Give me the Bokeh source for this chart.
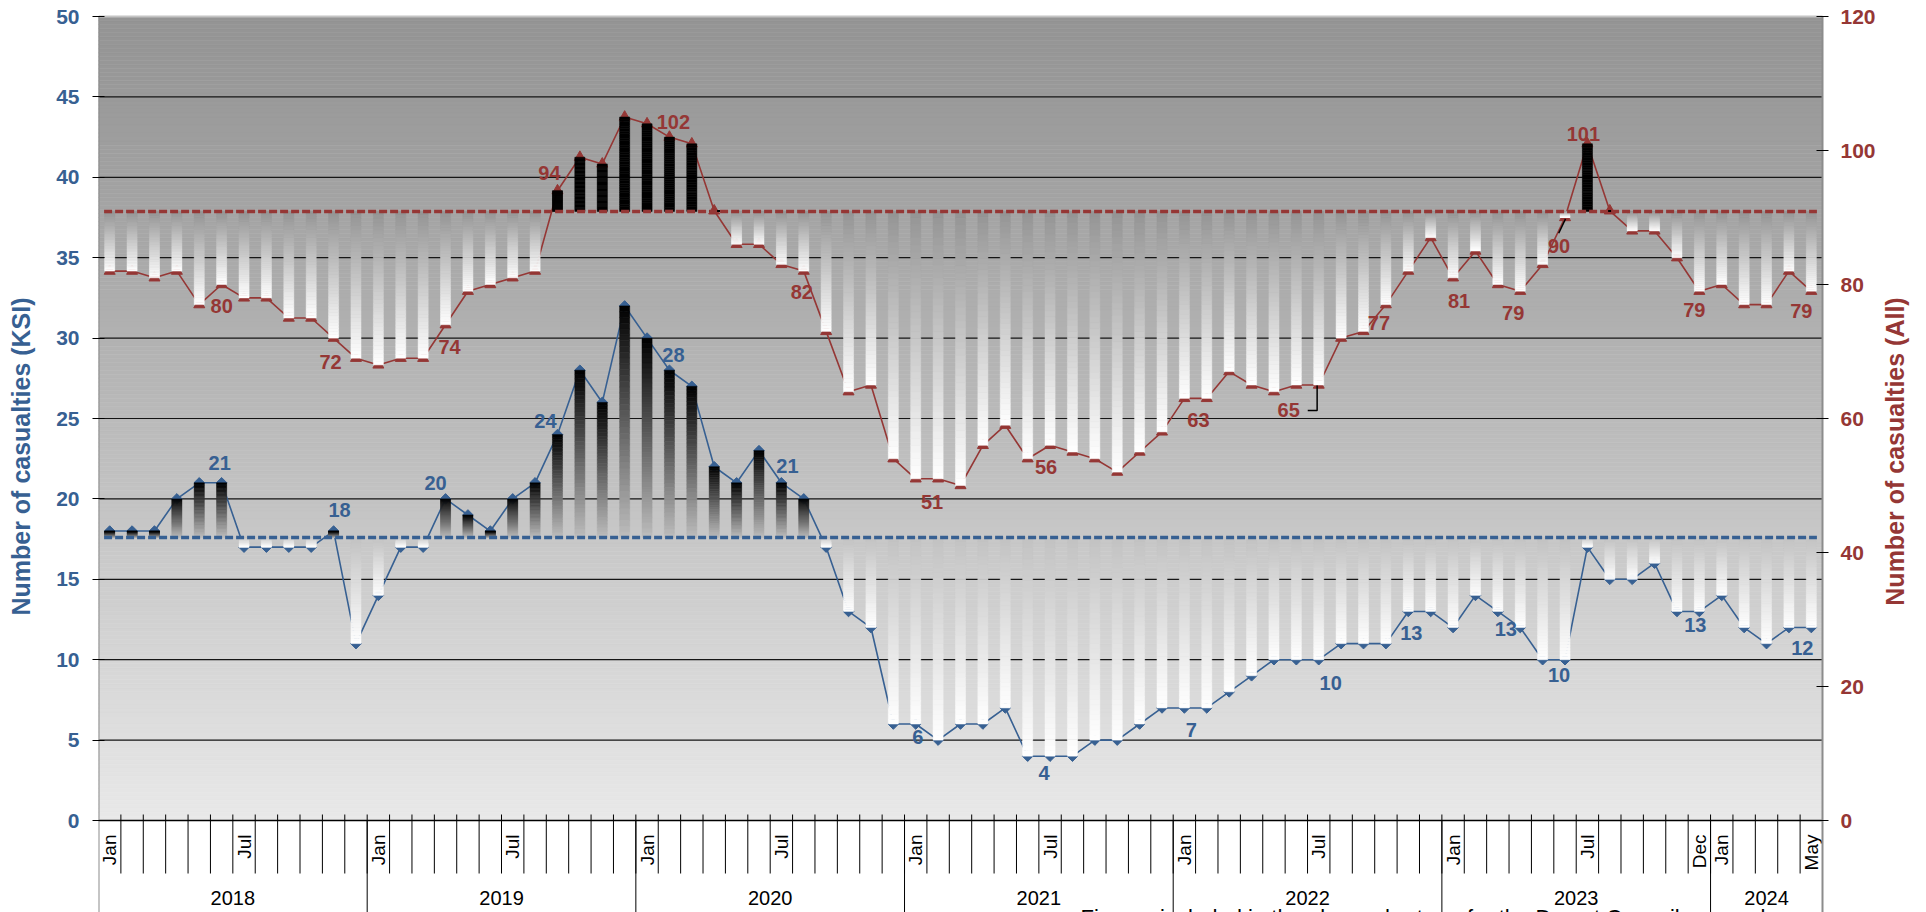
import math
import numpy as np
from bokeh.plotting import figure
from bokeh.models import Range1d, FixedTicker
from bokeh.core.properties import value
from bokeh.embed import file_html
from bokeh.resources import INLINE

# ---------------- data ----------------
years = ["2018", "2019", "2020", "2021", "2022", "2023", "2024"]
months_in_year = [12, 12, 12, 12, 12, 12, 5]
month_names = ["Jan", "Feb", "Mar", "Apr", "May", "Jun",
               "Jul", "Aug", "Sep", "Oct", "Nov", "Dec"]

# killed or seriously injured, per month (left axis)
ksi = [18, 18, 18, 20, 21, 21, 17, 17, 17, 17, 18, 11,
       14, 17, 17, 20, 19, 18, 20, 21, 24, 28, 26, 32,
       30, 28, 27, 22, 21, 23, 21, 20, 17, 13, 12, 6,
       6, 5, 6, 6, 7, 4, 4, 4, 5, 5, 6, 7,
       7, 7, 8, 9, 10, 10, 10, 11, 11, 11, 13, 13,
       12, 14, 13, 12, 10, 10, 17, 15, 15, 16, 13, 13,
       14, 12, 11, 12, 12]

# all casualties, per month (right axis)
all_cas = [82, 82, 81, 82, 77, 80, 78, 78, 75, 75, 72, 69,
           68, 69, 69, 74, 79, 80, 81, 82, 94, 99, 98, 105,
           104, 102, 101, 91, 86, 86, 83, 82, 73, 64, 65, 54,
           51, 51, 50, 56, 59, 54, 56, 55, 54, 52, 55, 58,
           63, 63, 67, 65, 64, 65, 65, 72, 73, 77, 82, 87,
           81, 85, 80, 79, 83, 90, 101, 91, 88, 88, 84, 79,
           80, 77, 77, 82, 79]

ksi_baseline = 17.6
all_baseline = 90.9

left_ticks = list(range(0, 51, 5))
right_ticks = list(range(0, 121, 20))

# month labels shown on the category axis: (year, month)
shown_months = [("2018", "Jan"), ("2018", "Jul"), ("2019", "Jan"), ("2019", "Jul"),
                ("2020", "Jan"), ("2020", "Jul"), ("2021", "Jan"), ("2021", "Jul"),
                ("2022", "Jan"), ("2022", "Jul"), ("2023", "Jan"), ("2023", "Jul"),
                ("2023", "Dec"), ("2024", "Jan"), ("2024", "May")]

# value labels: (month index, screen offset x, screen offset y)
ksi_label_pos = [(5, -2, -20), (10, 6, -21), (15, -10, -16), (20, -12, -14),
                 (25, 4, -15), (30, 6, -17), (36, 2, 13), (42, -6, 17),
                 (48, 7, 22), (54, 12, 23), (58, 3, 22), (62, 8, 18),
                 (65, -6, 15), (71, -4, 14), (76, -9, 20)]
all_label_pos = [(5, 0, 21), (10, -3, 24), (15, 4, 22), (20, -8, -18),
                 (25, 4, -15), (31, -2, 21), (37, -6, 23), (42, -4, 22),
                 (48, 14, 22), (54, -30, 25), (57, -7, 18), (60, 6, 23),
                 (63, -7, 22), (65, -6, 28), (66, -4, -10), (71, -5, 19),
                 (76, -10, 20)]

ksi_title = "Number of casualties (KSI)"
all_title = "Number of casualties (All)"
note = "Figures included in the above chart are for the Dorset Council area only"

# ---------------- layout ----------------
BLUE = "#376092"
RED = "#953735"
AXIS_GREY = "#8c8c8c"
FONT = "Liberation Sans"

W, H = 1926, 912
LEFT, RIGHT, TOP, ZERO = 98, 1822, 16, 820
PX_PER_UNIT = (ZERO - TOP) / 50.0
Y_MIN = -(H - ZERO) / PX_PER_UNIT
Y_MAX = ZERO / PX_PER_UNIT
R_FACTOR = 120 / 50.0
N = len(ksi)
PX_PER_MONTH = (RIGHT - LEFT) / N


def yd(py):
    """screen row -> left-axis units"""
    return (ZERO - py) / PX_PER_UNIT


def xd(px):
    """screen column -> month units"""
    return (px - LEFT) / PX_PER_MONTH


# the frame fills the canvas to the right and top so the right-hand scale fits in it
p = figure(width=W, height=H, x_range=Range1d(0, xd(W)), y_range=Range1d(Y_MIN, Y_MAX),
           x_axis_location=None, y_axis_location="left",
           output_backend="svg", toolbar_location=None,
           min_border_left=LEFT, min_border_right=0,
           min_border_top=0, min_border_bottom=0,
           background_fill_color="white", border_fill_color="white",
           outline_line_color=None)
p.grid.visible = False
p.extra_y_ranges = {"right": Range1d(Y_MIN * R_FACTOR, Y_MAX * R_FACTOR)}

# plot-area background: vertical grey gradient
nb = 200
edges = np.linspace(0, 50, nb + 1)
bg = []
for k in range(nb):
    t = (50 - 0.5 * (edges[k] + edges[k + 1])) / 50.0
    c = int(round(148 + 85 * t ** 1.15))
    bg.append("#%02x%02x%02x" % (c, c, c))
p.quad(left=0, right=N, bottom=edges[:-1], top=edges[1:],
       fill_color=bg, line_color=bg, line_width=0.6)

# horizontal gridlines
grid_vals = left_ticks[1:-1]
p.segment(x0=[0] * len(grid_vals), x1=[N] * len(grid_vals), y0=grid_vals, y1=grid_vals,
          line_color="#151515", line_width=1.2)
p.segment(x0=[0], x1=[N], y0=[50], y1=[50], line_color="#c4c4c4", line_width=2)

x = np.arange(N) + 0.5

# lines + markers
p.line(x, ksi, line_color=BLUE, line_width=1.6)
p.scatter(x, ksi, marker="square", angle=math.pi / 4, size=7.5,
          fill_color=BLUE, line_color=BLUE)
p.line(x, all_cas, line_color=RED, line_width=1.6, y_range_name="right")
p.scatter(x, all_cas, marker="triangle", size=11, fill_color=RED, line_color=RED,
          y_range_name="right")


def mix(c0, c1, t):
    return "#%02x%02x%02x" % tuple(int(round(a + (b - a) * t)) for a, b in zip(c0, c1))


def gradient_bars(vals, base, above_base, above_end, below_base, below_end,
                  y_range_name="default", width=0.45, n=40):
    L, R, B, T, C = [], [], [], [], []
    for i, v in enumerate(vals):
        if v == base:
            continue
        c0, c1 = (above_base, above_end) if v > base else (below_base, below_end)
        e = np.linspace(base, v, n + 1)
        for k in range(n):
            tt = (k + 0.5) / n
            lo, hi = sorted((e[k], e[k + 1]))
            L.append(i + 0.5 - width / 2)
            R.append(i + 0.5 + width / 2)
            B.append(lo)
            T.append(hi)
            C.append(mix(c0, c1, tt))
    p.quad(left=L, right=R, bottom=B, top=T, fill_color=C, line_color=C,
           line_width=0.5, y_range_name=y_range_name)


gradient_bars(ksi, ksi_baseline, (189, 189, 189), (0, 0, 0),
              (194, 194, 194), (255, 255, 255))
gradient_bars(all_cas, all_baseline, (0, 0, 0), (0, 0, 0),
              (148, 148, 148), (255, 255, 255), y_range_name="right")

# dashed reference levels
p.line([0.25, N - 0.25], [ksi_baseline] * 2, line_color=BLUE, line_width=3.5,
       line_dash="8 3")
p.line([0.25, N - 0.25], [all_baseline] * 2, line_color=RED, line_width=3.5,
       line_dash="8 3", y_range_name="right")

# value labels
for vals, pos, col, rng in ((ksi, ksi_label_pos, BLUE, "default"),
                            (all_cas, all_label_pos, RED, "right")):
    idx = [q[0] for q in pos]
    p.text(x=[i + 0.5 for i in idx], y=[vals[i] for i in idx],
           text=[str(vals[i]) for i in idx],
           x_offset=[q[1] for q in pos], y_offset=[q[2] for q in pos],
           text_align="center", text_baseline="middle",
           text_font=value(FONT), text_font_style="bold", text_font_size="20px",
           text_color=col, y_range_name=rng)

# leader lines for two of the labels
for i, pts in ((54, [(-11, 25.5), (-1.6, 25.5), (-1.6, 0.5)]),
               (65, [(-6.3, 15.8), (0.5, 1.4)])):
    xs = [i + 0.5 + dx / PX_PER_MONTH for dx, dy in pts]
    ys = [all_cas[i] - dy / (PX_PER_UNIT / R_FACTOR) for dx, dy in pts]
    p.line(xs, ys, line_color="black", line_width=1.5, y_range_name="right")

# category axis: baseline, month ticks, year separators, labels
p.segment(x0=[0], x1=[N], y0=[0], y1=[0], line_color="black", line_width=1.6)
bounds = list(range(1, N))
p.segment(x0=bounds, x1=bounds, y0=[yd(814)] * len(bounds), y1=[yd(873)] * len(bounds),
          line_color="black", line_width=1)
year_starts = list(np.cumsum([0] + months_in_year))
seps = year_starts[1:-1]
p.segment(x0=seps, x1=seps, y0=[0] * len(seps), y1=[Y_MIN] * len(seps),
          line_color="black", line_width=1)

mx, mt = [], []
for yr, mn in shown_months:
    k = years.index(yr)
    mx.append(year_starts[k] + month_names.index(mn) + 0.5)
    mt.append(mn)
p.text(x=mx, y=[yd(834)] * len(mx), text=mt, angle=math.pi / 2,
       text_align="right", text_baseline="middle",
       text_font=value(FONT), text_font_size="19px", text_color="black")

yx = [(year_starts[k] + year_starts[k + 1]) / 2 for k in range(len(years))]
p.text(x=yx, y=[yd(897)] * len(yx), text=years, text_align="center",
       text_baseline="middle", text_font=value(FONT), text_font_size="20px",
       text_color="black")

p.text(x=[xd(1080)], y=[yd(904)], text=[note],
       text_align="left", text_baseline="top", text_font=value(FONT),
       text_font_size="22px", text_color="black")

# left scale (Bokeh axis); its line is drawn below the top of the plot area only
p.segment(x0=[0], x1=[0], y0=[Y_MIN], y1=[50], line_color=AXIS_GREY, line_width=2)
ax = p.yaxis[0]
ax.ticker = FixedTicker(ticks=left_ticks, minor_ticks=[])
ax.axis_line_color = None
ax.major_tick_in = 6
ax.major_tick_out = 6
ax.major_tick_line_color = "black"
ax.minor_tick_line_color = None
ax.major_label_text_font = FONT
ax.major_label_text_font_style = "bold"
ax.major_label_text_font_size = "21px"
ax.major_label_text_color = BLUE
ax.major_label_standoff = 13
ax.axis_label = ksi_title
ax.axis_label_text_font = FONT
ax.axis_label_text_font_style = "bold"
ax.axis_label_text_font_size = "25px"
ax.axis_label_text_color = BLUE
ax.axis_label_standoff = 18

# right scale for all casualties: line, ticks, labels and title
tick_half = 6 / PX_PER_MONTH
p.segment(x0=[N], x1=[N], y0=[Y_MIN * R_FACTOR], y1=[120], line_color=AXIS_GREY,
          line_width=2, y_range_name="right")
p.segment(x0=[N - tick_half] * len(right_ticks), x1=[N + tick_half] * len(right_ticks),
          y0=right_ticks, y1=right_ticks, line_color="black", line_width=1,
          y_range_name="right")
p.text(x=[xd(RIGHT + 18)] * len(right_ticks), y=right_ticks,
       text=[str(t) for t in right_ticks], text_align="left", text_baseline="middle",
       text_font=value(FONT), text_font_style="bold", text_font_size="21px",
       text_color=RED, y_range_name="right")
p.text(x=[xd(1894)], y=[yd(451)], text=[all_title], angle=math.pi / 2,
       text_align="center", text_baseline="middle",
       text_font=value(FONT), text_font_style="bold", text_font_size="25px",
       text_color=RED)

open("out.html", "w").write(file_html(p, INLINE))
